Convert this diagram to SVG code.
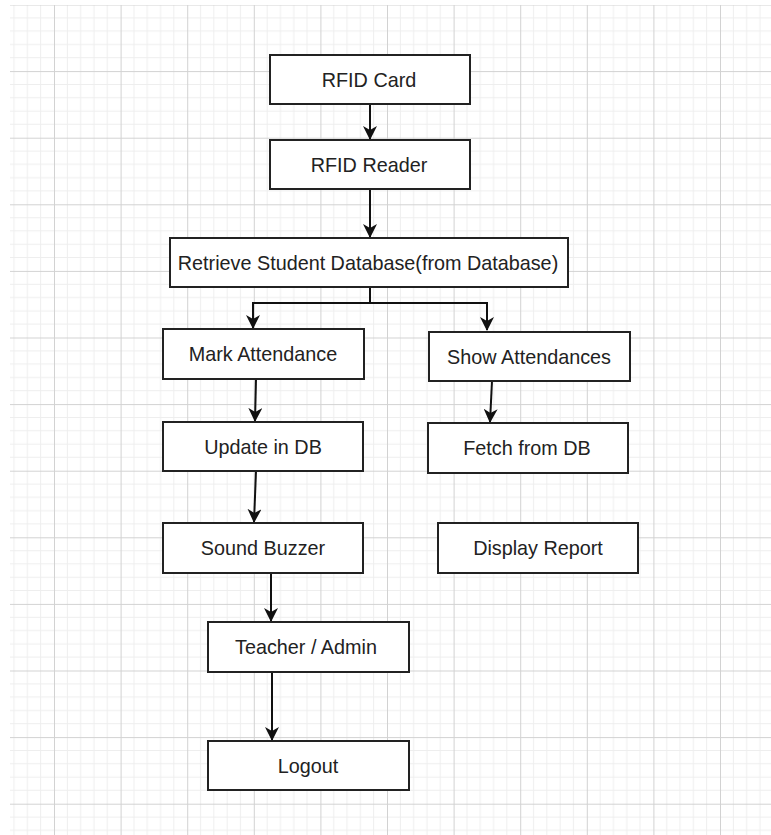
<svg xmlns="http://www.w3.org/2000/svg" width="771" height="835" viewBox="0 0 771 835">
<style>
.box{fill:#fff;stroke:#222;stroke-width:2}
.lbl{font-family:"Liberation Sans",Arial,sans-serif;font-size:19.8px;fill:#222;text-anchor:middle}
.conn{fill:none;stroke:#111;stroke-width:2}
</style>
<defs>
<pattern id="grid" patternUnits="userSpaceOnUse" x="54" y="4.5" width="66.6" height="66.6">
<path d="M13.32,0V66.6M26.64,0V66.6M39.96,0V66.6M53.28,0V66.6M0,13.32H66.6M0,26.64H66.6M0,39.96H66.6M0,53.28H66.6" stroke="#eeeeee" stroke-width="1" fill="none"/>
<path d="M0.5,0V66.6M0,0.5H66.6" stroke="#d2d2d2" stroke-width="1" fill="none"/>
</pattern>
<marker id="arr" markerUnits="userSpaceOnUse" markerWidth="14" markerHeight="14" refX="13" refY="7" orient="auto">
<path d="M0,0 L14,7 L0,14 L4,7 z" fill="#111"/>
</marker>
</defs>
<rect width="771" height="835" fill="#fff"/>
<rect x="10" y="5" width="761" height="830" fill="url(#grid)"/>
<g id="connectors">
<path class="conn" d="M370,104V139" marker-end="url(#arr)"/>
<path class="conn" d="M370,189V237" marker-end="url(#arr)"/>
<path class="conn" d="M370,287V303H253V328" marker-end="url(#arr)"/>
<path class="conn" d="M370,303H487V330" marker-end="url(#arr)"/>
<path class="conn" d="M256,379L255,421" marker-end="url(#arr)"/>
<path class="conn" d="M492,381L490,422" marker-end="url(#arr)"/>
<path class="conn" d="M256,471L254,522" marker-end="url(#arr)"/>
<path class="conn" d="M271,573V621" marker-end="url(#arr)"/>
<path class="conn" d="M272,672V740" marker-end="url(#arr)"/>
</g>
<g id="rfid-card"><rect class="box" x="270" y="55" width="200" height="49"/><text class="lbl" x="369" y="86.5">RFID Card</text></g>
<g id="rfid-reader"><rect class="box" x="270" y="140" width="200" height="49"/><text class="lbl" x="369" y="171.5">RFID Reader</text></g>
<g id="retrieve"><rect class="box" x="170" y="238" width="398" height="49"/><text class="lbl" x="368" y="269.5">Retrieve Student Database(from Database)</text></g>
<g id="mark"><rect class="box" x="163" y="329" width="201" height="50"/><text class="lbl" x="263" y="361">Mark Attendance</text></g>
<g id="show"><rect class="box" x="429" y="332" width="201" height="49"/><text class="lbl" x="529" y="363.5">Show Attendances</text></g>
<g id="update"><rect class="box" x="163" y="422" width="200" height="49"/><text class="lbl" x="263" y="453.5">Update in DB</text></g>
<g id="fetch"><rect class="box" x="428" y="423" width="200" height="50"/><text class="lbl" x="527" y="455">Fetch from DB</text></g>
<g id="buzzer"><rect class="box" x="163" y="523" width="200" height="50"/><text class="lbl" x="263" y="555">Sound Buzzer</text></g>
<g id="report"><rect class="box" x="438" y="523" width="200" height="50"/><text class="lbl" x="538" y="555">Display Report</text></g>
<g id="teacher"><rect class="box" x="208" y="622" width="201" height="50"/><text class="lbl" x="306" y="654">Teacher / Admin</text></g>
<g id="logout"><rect class="box" x="208" y="741" width="201" height="49"/><text class="lbl" x="308" y="773">Logout</text></g>
</svg>
